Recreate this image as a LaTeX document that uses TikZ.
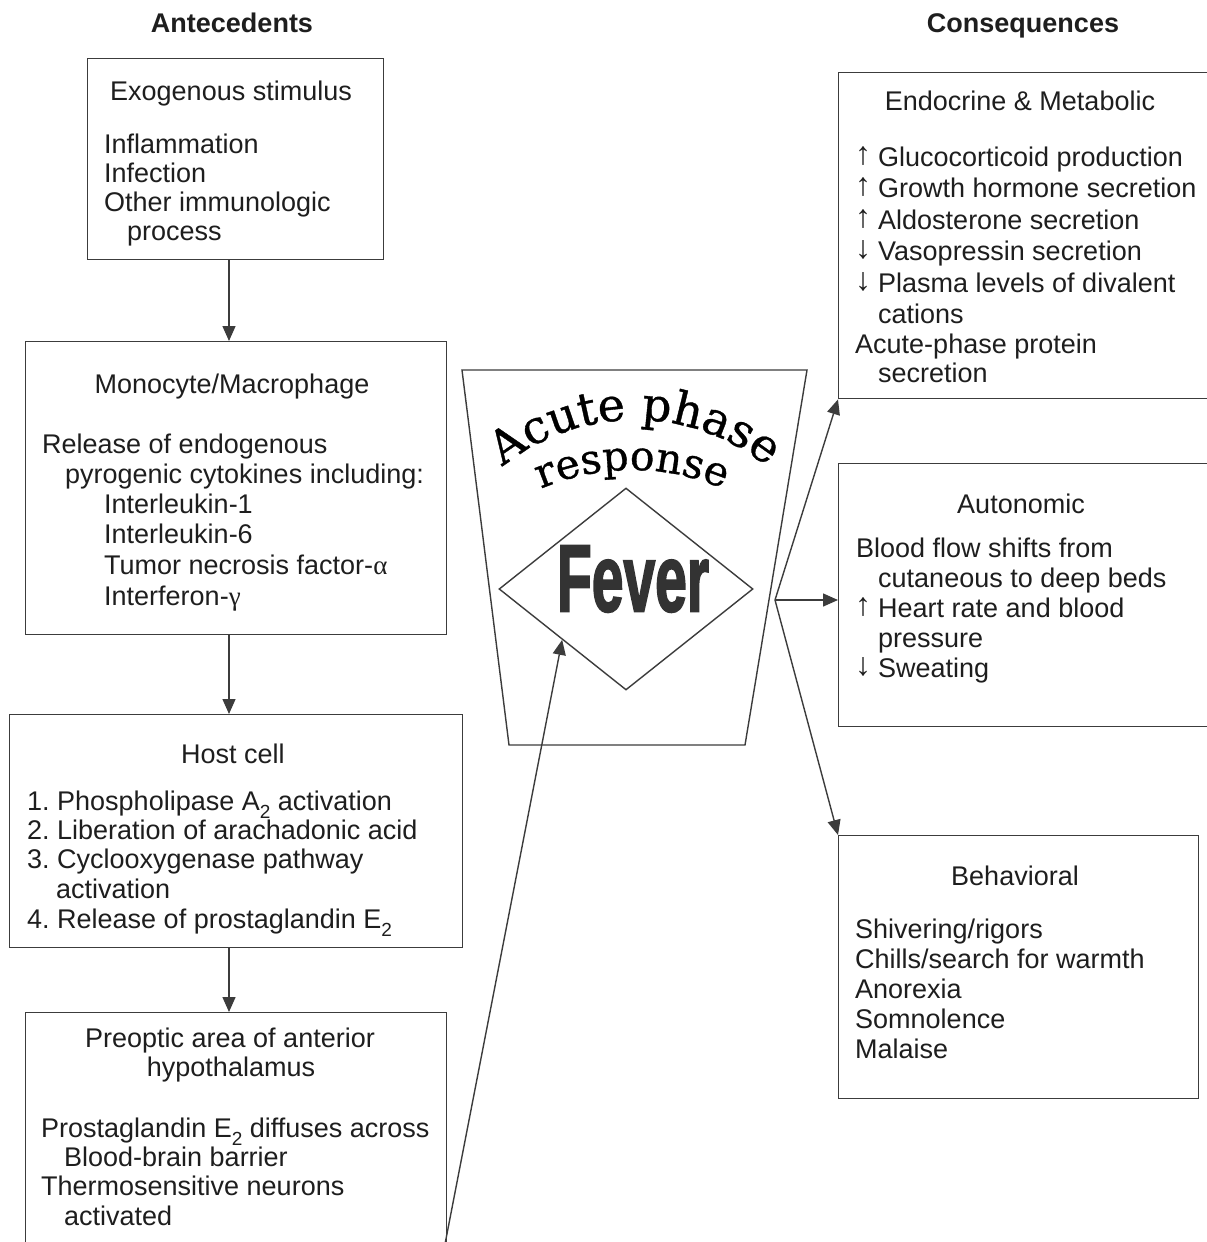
\documentclass[tikz,border=0pt]{standalone}
\usepackage{fontspec}
\setmainfont{Liberation Sans}
\newfontfamily\gkfont{Liberation Serif}
\newfontfamily\acfont{DejaVu Serif}[BoldFont={DejaVu Serif}, BoldFeatures={FakeBold=0.8}]
\newfontfamily\fevfont{Liberation Sans}[BoldFeatures={FakeBold=2.5}]
\usetikzlibrary{arrows.meta,decorations.text,shapes.geometric}
\definecolor{linecol}{HTML}{3C3C3C}
\definecolor{txtcol}{HTML}{1E1E1E}
\definecolor{fevcol}{HTML}{333333}
\newcommand\bodyfont{\fontsize{27}{30}\selectfont}
\newcommand\lowtwo{\raisebox{-8pt}{\fontsize{19}{19}\selectfont 2}}
\newcommand\uparw{\makebox[23pt][l]{\raisebox{2pt}{\gkfont\fontsize{32}{32}\selectfont ↑}}}
\newcommand\dnarw{\makebox[23pt][l]{\raisebox{2pt}{\gkfont\fontsize{32}{32}\selectfont ↓}}}
\newcommand\gk[1]{{\gkfont #1}}
\begin{document}
\begin{tikzpicture}[x=1pt,y=-1pt,
  box/.style={draw=linecol, line width=1.4pt, inner sep=0pt, anchor=north west},
  txt/.style={inner sep=0pt, anchor=base west, font=\bodyfont, text=txtcol},
  ttl/.style={inner sep=0pt, anchor=base, font=\bodyfont, text=txtcol},
  head/.style={inner sep=0pt, anchor=base, font=\bodyfont\bfseries, text=txtcol},
  arr/.style={draw=linecol, line width=1.4pt, -{Triangle[length=15pt,width=13pt]}},
  shp/.style={draw=linecol, line width=1.4pt}]
\useasboundingbox (0,0) rectangle (1207,1242);
\fill[white] (0,0) rectangle (1207,1242);
\clip (0,0) rectangle (1207,1242);

% headings
\node[head] (hant) at (232,32) {Antecedents};
\node[head] (hcon) at (1023,32) {Consequences};

% left boxes
\node[box, minimum width=296pt, minimum height=201pt] (exo) at (87,58) {};
\node[box, minimum width=421pt, minimum height=293pt] (mono) at (25,341) {};
\node[box, minimum width=453pt, minimum height=233pt] (host) at (9,714) {};
\node[box, minimum width=421pt, minimum height=260pt] (pre) at (25,1012) {};

% right boxes
\node[box, minimum width=380pt, minimum height=326pt] (endo) at (838,72) {};
\node[box, minimum width=380pt, minimum height=263pt] (auto) at (838,463) {};
\node[box, minimum width=360pt, minimum height=263pt] (beh) at (838,835) {};

% exogenous text
\node[txt] (exo1) at (110,100) {Exogenous stimulus};
\node[txt] (exo2) at (104,153) {Inflammation};
\node[txt] (exo3) at (104,182) {Infection};
\node[txt] (exo4) at (104,211) {Other immunologic};
\node[txt] (exo5) at (127,240) {process};

% monocyte text
\node[ttl] (mono0) at (232,393) {Monocyte/Macrophage};
\node[txt] (mono1) at (42,453) {Release of endogenous};
\node[txt] (mono2) at (65,483) {pyrogenic cytokines including:};
\node[txt] (mono3) at (104,513) {Interleukin-1};
\node[txt] (mono4) at (104,543) {Interleukin-6};
\node[txt] (mono5) at (104,574) {Tumor necrosis factor-\gk{α}};
\node[txt] (mono6) at (104,605) {Interferon-\gk{γ}};

% host cell text
\node[ttl] (host0) at (233,763) {Host cell};
\node[txt] (host1) at (27,810) {1.\ Phospholipase A\lowtwo{} activation};
\node[txt] (host2) at (27,839) {2.\ Liberation of arachadonic acid};
\node[txt] (host3) at (27,868) {3.\ Cyclooxygenase pathway};
\node[txt] (host4) at (56,898) {activation};
\node[txt] (host5) at (27,928) {4.\ Release of prostaglandin E\lowtwo};

% preoptic text
\node[ttl] (pre0) at (230,1047) {Preoptic area of anterior};
\node[ttl] (pre1) at (231,1076) {hypothalamus};
\node[txt] (pre2) at (41,1137) {Prostaglandin E\lowtwo{} diffuses across};
\node[txt] (pre3) at (64,1166) {Blood-brain barrier};
\node[txt] (pre4) at (41,1195) {Thermosensitive neurons};
\node[txt] (pre5) at (64,1225) {activated};

% endocrine text
\node[ttl] (endo0) at (1020,110) {Endocrine \& Metabolic};
\node[txt] (endo1) at (855,166) {\uparw Glucocorticoid production};
\node[txt] (endo2) at (855,197) {\uparw Growth hormone secretion};
\node[txt] (endo3) at (855,229) {\uparw Aldosterone secretion};
\node[txt] (endo4) at (855,260) {\dnarw Vasopressin secretion};
\node[txt] (endo5) at (855,292) {\dnarw Plasma levels of divalent};
\node[txt] (endo6) at (878,323) {cations};
\node[txt] (endo7) at (855,353) {Acute-phase protein};
\node[txt] (endo8) at (878,382) {secretion};

% autonomic text
\node[ttl] (auto0) at (1021,513) {Autonomic};
\node[txt] (auto1) at (856,557) {Blood flow shifts from};
\node[txt] (auto2) at (878,587) {cutaneous to deep beds};
\node[txt] (auto3) at (855,617) {\uparw Heart rate and blood};
\node[txt] (auto4) at (878,647) {pressure};
\node[txt] (auto5) at (855,677) {\dnarw Sweating};

% behavioral text
\node[ttl] (beh0) at (1015,885) {Behavioral};
\node[txt] (beh1) at (855,938) {Shivering/rigors};
\node[txt] (beh2) at (855,968) {Chills/search for warmth};
\node[txt] (beh3) at (855,998) {Anorexia};
\node[txt] (beh4) at (855,1028) {Somnolence};
\node[txt] (beh5) at (855,1058) {Malaise};

% central acute phase response
\draw[shp] (462,370) -- (807,370) -- (745,745) -- (509,745) -- cycle;
\path[decorate, decoration={text along path, text align=center,
  text={|\acfont\bfseries\fontsize{46}{46}\selectfont|Acute phase}}]
  (463,509.5) arc[start angle=215, end angle=325, radius=210];
\path[decorate, decoration={text along path, text align=center,
  text={|\acfont\bfseries\fontsize{41}{41}\selectfont|response}}]
  (484.2,523.8) arc[start angle=230, end angle=310, radius=230];
\node[shp, diamond, minimum width=254pt, minimum height=202pt, inner sep=0pt] (dia) at (626,589) {};
\node[inner sep=0pt, text=fevcol] (fever) at (633,579)
  {\scalebox{0.6}[1]{\fevfont\fontsize{95}{95}\selectfont\bfseries Fever}};

% connectors
\coordinate (ax) at (229,0);
\draw[arr] (exo.south -| ax) -- (mono.north -| ax);
\draw[arr] (mono.south -| ax) -- (host.north -| ax);
\draw[arr] (host.south -| ax) -- (pre.north -| ax);
\coordinate (pstart) at (445,1244);
\draw[arr] (pstart) -- (dia.south west);
\coordinate (hub) at (775,600);
\draw[arr] (hub) -- (endo.south west);
\draw[arr] (hub) -- (hub -| auto.west);
\draw[arr] (hub) -- (beh.north west);
\end{tikzpicture}
\end{document}
